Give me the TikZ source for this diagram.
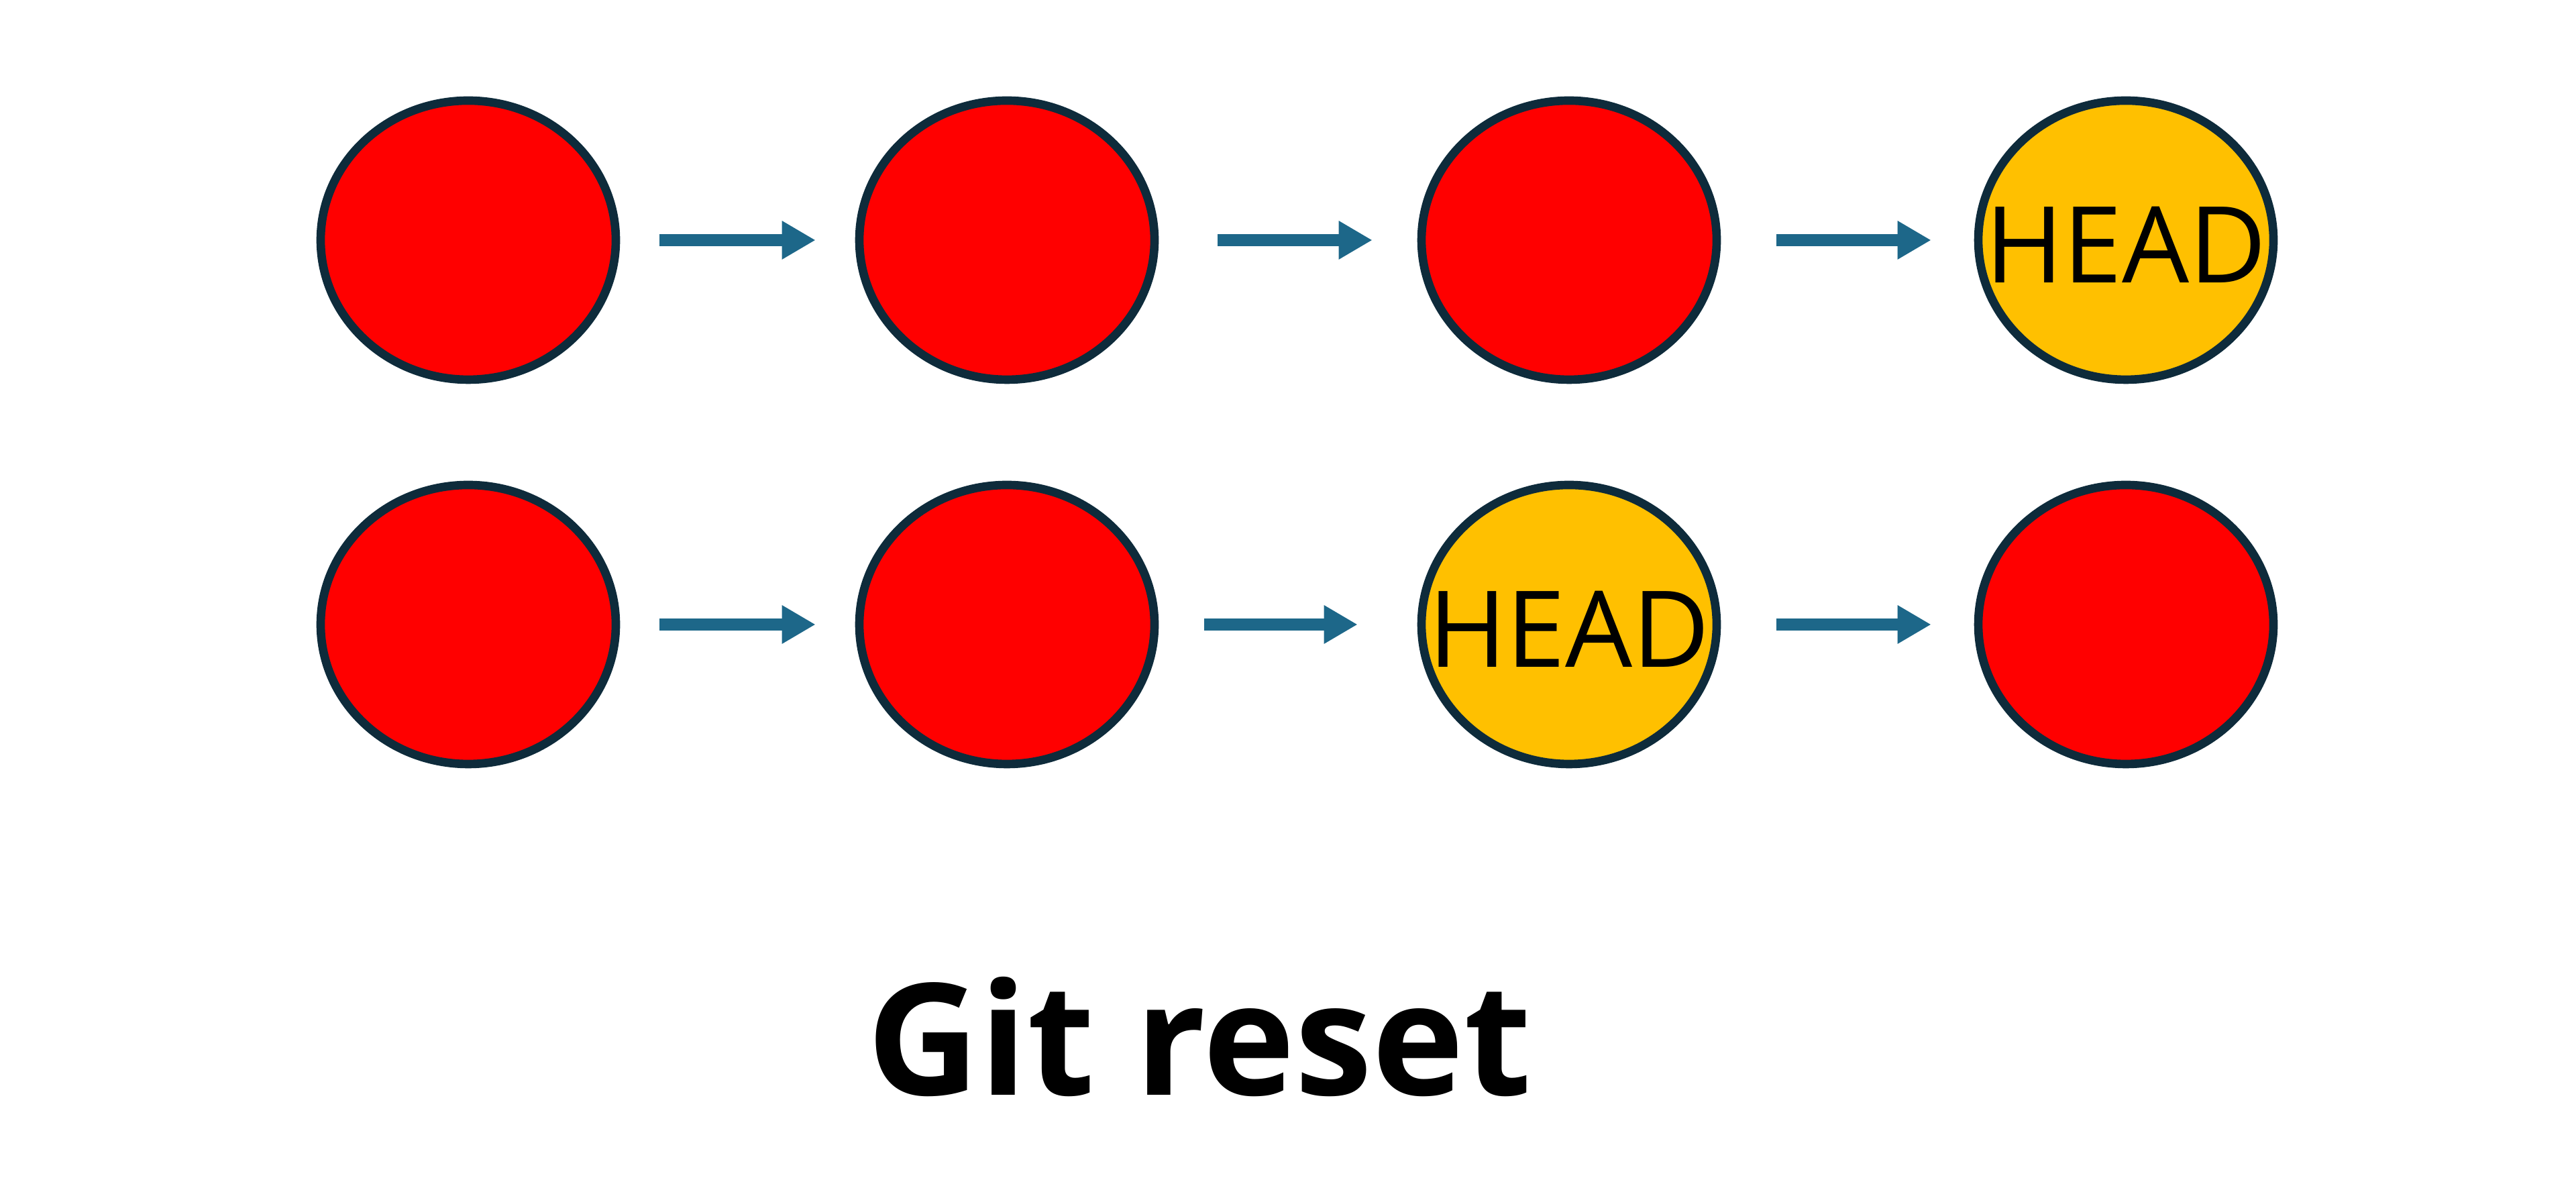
\documentclass[tikz,border=0pt]{standalone}
\usepackage{fontspec}
\setmainfont{Open Sans}
\usetikzlibrary{shapes.geometric,arrows.meta}
\definecolor{cred}{HTML}{FF0000}
\definecolor{cyel}{HTML}{FFC000}
\definecolor{cborder}{HTML}{0E2B3B}
\definecolor{carrow}{HTML}{1D6789}
\tikzset{
  commit/.style={ellipse, draw=cborder, line width=3.6pt, fill=cred, minimum width=4.40cm, minimum height=4.16cm, inner sep=0pt},
  headc/.style={commit, fill=cyel},
  headtext/.style={inner sep=0pt, font=\fontsize{45}{50}\selectfont},
  arr/.style={draw=carrow, line width=5pt, -{Triangle[length=5mm,width=5.4mm]}}
}
\begin{document}
\begin{tikzpicture}
\useasboundingbox (0,0) rectangle (38.4,17.68);
% top row
\node[commit] (t1) at (6.98,14.10) {};
\node[commit] (t2) at (15.01,14.10) {};
\node[commit] (t3) at (23.39,14.10) {};
\node[headc] (t4) at (31.69,14.10) {};
\node[headtext] (t4l) at ([yshift=-0.07cm]t4.center) {HEAD};
% bottom row
\node[commit] (b1) at (6.98,8.37) {};
\node[commit] (b2) at (15.01,8.37) {};
\node[headc] (b3) at (23.39,8.37) {};
\node[headtext] (b3l) at ([yshift=-0.07cm]b3.center) {HEAD};
\node[commit] (b4) at (31.69,8.37) {};
% arrows
\draw[arr, shorten <=0.59cm, shorten >=0.59cm] (t1) -- (t2);
\draw[arr, shorten <=0.88cm, shorten >=0.67cm] (t2) -- (t3);
\draw[arr, shorten <=0.83cm, shorten >=0.64cm] (t3) -- (t4);
\draw[arr, shorten <=0.59cm, shorten >=0.59cm] (b1) -- (b2);
\draw[arr, shorten <=0.68cm, shorten >=0.89cm] (b2) -- (b3);
\draw[arr, shorten <=0.83cm, shorten >=0.64cm] (b3) -- (b4);
% title
\node[anchor=base, font=\fontsize{66}{80}\selectfont\bfseries] (title) at (17.88,1.35) {Git reset};
\end{tikzpicture}
\end{document}
